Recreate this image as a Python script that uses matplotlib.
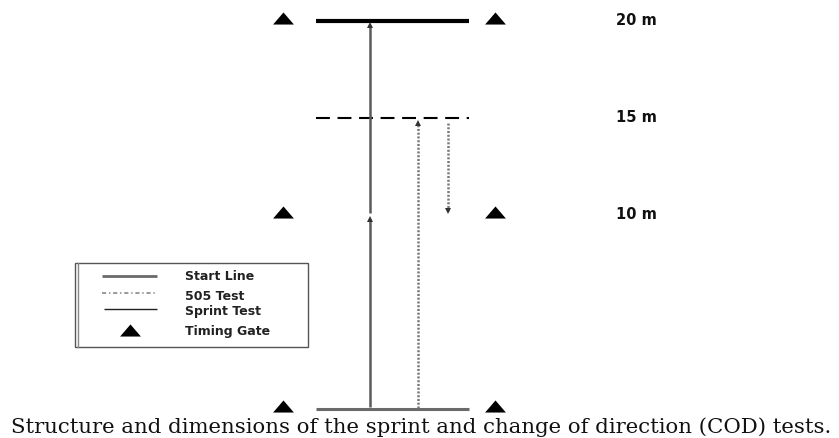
import matplotlib
matplotlib.use("Agg")
import matplotlib.pyplot as plt
from matplotlib.patches import Rectangle

# ---- data (metres) ----
gate_distances = [0, 10, 20]
marker_labels = ["20 m", "15 m", "10 m"]
label_distances = [20, 15, 10]
start_line_m = 0
finish_line_m = 20
turn_line_m = 15
sprint_segments = [(0, 10), (10, 20)]
test505_segments = [(0, 15), (15, 10)]
legend_labels = ["Start Line", "505 Test", "Sprint Test", "Timing Gate"]
caption = "Structure and dimensions of the sprint and change of direction (COD) tests."

W, H = 839, 438
fig = plt.figure(figsize=(W / 100, H / 100), dpi=100)
plt.rcParams['lines.scale_dashes'] = False

# main axes: x in pixels, y in metres
scale = 19.4
y0px = 409
ymin = -(H - y0px) / scale
ymax = ymin + H / scale
ax = fig.add_axes([0, 0, 1, 1])
ax.set_xlim(0, W)
ax.set_ylim(ymin, ymax)
ax.axis('off')

# overlay axes in pixel coords for legend & caption
lax = fig.add_axes([0, 0, 1, 1], facecolor='none')
lax.set_xlim(0, W)
lax.set_ylim(H, 0)
lax.axis('off')

tri = [(-1, -0.58), (1, -0.58), (0, 0.58), (-1, -0.58)]

x_left, x_right = 316, 469
gate_x = [283, 495]

# lines
ax.plot([x_left, x_right], [start_line_m] * 2, color='#6a6a6a', lw=2.2, solid_capstyle='butt')
ax.plot([x_left, x_right], [finish_line_m] * 2, color='black', lw=3, solid_capstyle='butt')
ax.plot([x_left, x_right], [turn_line_m] * 2, color='black', lw=1.5, linestyle=(0, (10, 5.5)))

# timing gates
for d in gate_distances:
    ax.plot(gate_x, [d + 0.15, d + 0.15], linestyle='none', marker=tri, markersize=15,
            color='black', markeredgewidth=0)

# sprint arrows
sx = 370
for a, b in sprint_segments:
    end = b - 0.2 if b > a else b + 0.2
    ax.plot([sx, sx], [a + 0.1, end], color='#5a5a5a', lw=1.8, solid_capstyle='butt')
    ax.plot([sx], [end], marker='^' if b > a else 'v', markersize=4.5, color='#333333',
            markeredgewidth=0)

# 505 arrows
tx = [418, 448]
for x, (a, b) in zip(tx, test505_segments):
    up = b > a
    start = a + (0.05 if up else -0.25)
    end = b - 0.25 if up else b + 0.2
    ax.plot([x, x], [start, end], color='#7a7a7a', lw=1.8, linestyle=(0, (1.5, 1.2)))
    ax.plot([x], [end], marker='^' if up else 'v', markersize=4.5, color='#333333',
            markeredgewidth=0)

# distance labels
for lab, d in zip(marker_labels, label_distances):
    ax.text(616, d, lab, fontsize=10.5, fontweight='bold', family='DejaVu Sans',
            va='center', ha='left', color='#111111')

# legend box
lax.add_patch(Rectangle((75, 263), 233, 84, fill=False, edgecolor='#555555', lw=1))
lax.plot([77.5, 77.5], [263, 347], color='#888888', lw=1)
lax.plot([102, 157], [276, 276], color='#6a6a6a', lw=2, solid_capstyle='butt')
lax.plot([102, 157], [293, 293], color='#8a8a8a', lw=1.2, linestyle=(0, (3, 2, 1, 2)))
lax.plot([104, 157], [309, 309], color='#222222', lw=1, solid_capstyle='butt')
lax.plot([130], [330], marker=tri, markersize=15, color='black', markeredgewidth=0)
for lab, y in zip(legend_labels, [276, 296, 311, 331]):
    lax.text(185, y, lab, fontsize=9, fontweight='bold', family='DejaVu Sans',
             va='center', ha='left', color='#222222')

# caption
lax.text(421, 427, caption, fontsize=15.3, family='DejaVu Serif', ha='center', va='center',
         color='#111111')

fig.savefig('out.png', dpi=100)
